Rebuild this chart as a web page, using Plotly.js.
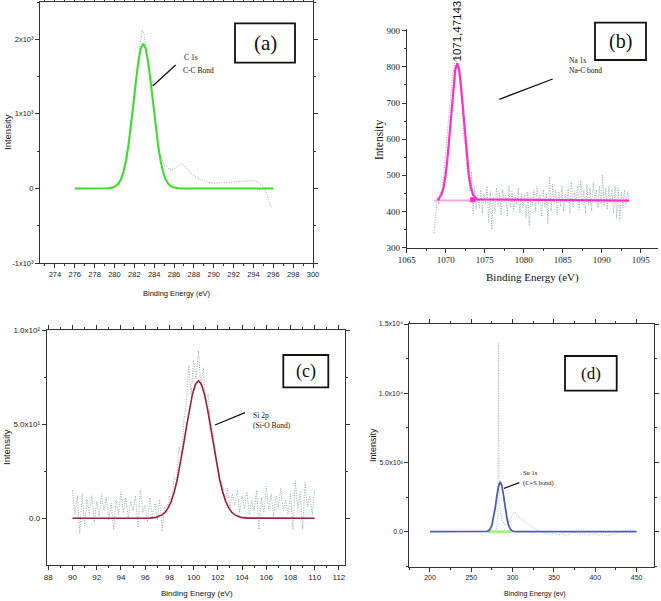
<!DOCTYPE html>
<html><head><meta charset="utf-8">
<script src="https://cdn.plot.ly/plotly-3.0.1.min.js"></script>
<style>html,body{margin:0;padding:0;background:#fff;}#chart{width:661px;height:601px;}</style>
</head><body><div id="chart"></div>
<script>
// ---------- Panel (a): C 1s ----------
const aRawX = [279.0,279.5,280.0,280.5,281.0,281.5,282.0,282.4,282.8,283.0,283.2,283.5,283.8,284.1,284.5,285.0,285.5,285.8,286.2,286.6,287.0,287.5,288.0,288.5,289.0,289.5,290.0,290.5,291.0,291.5,292.0,292.5,293.0,293.5,294.0,294.5,295.0,295.3,295.5,295.8];
const aRawY = [0,5,20,60,200,580,1150,1750,2130,2060,1850,1550,1200,950,480,320,260,245,280,330,310,235,170,130,100,80,70,75,80,85,85,90,100,110,105,80,20,-50,-150,-260];
const aFitX = [276,279,279.4,279.9,280.15,280.4,280.65,280.9,281.15,281.4,281.65,281.9,282.15,282.4,282.65,282.9,283.15,283.4,283.65,283.9,284.15,284.4,284.65,284.9,285.15,285.4,285.65,285.9,286.4,287,296];
const aFitY = [0,0,2.5,15,32,65,124,221,368,572,831,1128,1430,1694,1875,1940,1875,1694,1430,1128,831,572,368,221,124,65,32,15,2.5,0,0];
const aYTickVals = [-1000,0,1000,2000];
const aYTickText = ['-1x10³','0','1x10³','2x10³'];

// ---------- Panel (b): Na 1s ----------
const bRawX = [1068.5,1068.7,1068.9,1069.1,1069.3,1069.5,1069.7,1069.9,1070.1,1070.3,
1070.5,1070.7,1070.9,1071.1,1071.3,1071.5,1071.7,1071.9,1072.1,1072.3,
1072.5,1072.7,1072.9,1073.1,1073.3,1073.5,1073.7,1073.9,1074.1,1074.3,
1074.5,1074.7,1074.9,1075.1,1075.3,1075.5,1075.7,1075.9,1076.1,1076.3,
1076.5,1076.7,1076.9,1077.1,1077.3,1077.5,1077.7,1077.9,1078.1,1078.3,
1078.5,1078.7,1078.9,1079.1,1079.3,1079.5,1079.7,1079.9,1080.1,1080.3,
1080.5,1080.7,1080.9,1081.1,1081.3,1081.5,1081.7,1081.9,1082.1,1082.3,
1082.5,1082.7,1082.9,1083.1,1083.3,1083.5,1083.7,1083.9,1084.1,1084.3,
1084.5,1084.7,1084.9,1085.1,1085.3,1085.5,1085.7,1085.9,1086.1,1086.3,
1086.5,1086.7,1086.9,1087.1,1087.3,1087.5,1087.7,1087.9,1088.1,1088.3,
1088.5,1088.7,1088.9,1089.1,1089.3,1089.5,1089.7,1089.9,1090.1,1090.3,
1090.5,1090.7,1090.9,1091.1,1091.3,1091.5,1091.7,1091.9,1092.1,1092.3,
1092.5,1092.7,1092.9,1093.1,1093.3,1093.5];
const bRawY = [340,405,440,420,455,445,490,530,575,640,
690,745,780,800,830,805,790,735,690,610,
580,520,500,455,510,395,470,405,445,410,
460,395,450,420,470,370,455,350,440,400,
465,415,450,390,460,425,445,385,470,410,
455,400,440,420,465,395,450,410,445,380,
455,360,440,415,460,400,470,420,445,385,
460,410,450,365,495,400,475,420,460,390,
455,415,470,400,450,425,465,395,480,410,
455,430,470,405,485,420,460,395,475,415,
465,400,480,430,460,410,470,420,500,415,
465,405,470,425,460,395,470,380,465,375,
455,410,460,420,455,430];
const bFitX = [1069.0,1069.47,1069.72,1069.97,1070.22,1070.47,1070.72,1070.97,1071.22,1071.47,1071.72,1071.97,1072.22,1072.47,1072.72,1072.97,1073.22,1073.47,1073.97,1093.5];
const bFitY = [431,448,467,498,546,607,677,744,792,810,792,744,677,607,546,498,467,448,433,430];
const bBaseX = [1068.5,1074.0];
const bBaseY = [430,430];
const bMarkX = [1073.45];
const bMarkY = [432];

// ---------- Panel (c): Si 2p ----------
const cRawX = [90.0,90.2,90.4,90.6,90.8,91.0,91.2,91.4,91.6,91.8,
92.0,92.2,92.4,92.6,92.8,93.0,93.2,93.4,93.6,93.8,
94.0,94.2,94.4,94.6,94.8,95.0,95.2,95.4,95.6,95.8,
96.0,96.2,96.4,96.6,96.8,97.0,97.2,97.4,97.6,97.8,
98.0,98.2,98.4,98.6,98.8,99.0,99.2,99.4,99.6,99.8,
100.0,100.2,100.4,100.6,100.8,101.0,101.2,101.4,101.6,101.8,
102.0,102.2,102.4,102.6,102.8,103.0,103.2,103.4,103.6,103.8,
104.0,104.2,104.4,104.6,104.8,105.0,105.2,105.4,105.6,105.8,
106.0,106.2,106.4,106.6,106.8,107.0,107.2,107.4,107.6,107.8,
108.0,108.2,108.4,108.6,108.8,109.0,109.2,109.4,109.6,109.8,
110.0];
const cRawY = [15,2,12,-8,13,-4,10,3,12,-2,
9,1,13,4,11,-1,8,-6,10,2,
14,3,11,0,9,4,12,-5,15,3,
7,-2,11,1,8,-1,10,-7,6,3,
12,9,22,20,38,33,52,60,81,66,
84,74,89,70,80,62,66,50,47,32,
27,20,18,9,16,5,13,7,15,3,
12,5,14,2,10,4,15,-6,11,3,
17,5,13,1,12,6,16,4,10,2,
13,-6,20,5,14,-6,19,6,12,2,
15];
const cFitX = [90,96,96.4,96.9,97.4,97.65,97.9,98.15,98.4,98.65,98.9,99.15,99.4,99.65,99.9,100.15,100.4,100.65,100.9,101.15,101.4,101.65,101.9,102.15,102.4,102.65,102.9,103.15,103.4,103.9,104.4,110];
const cFitY = [0,0,0.1,0.5,1.8,3.2,5.5,9,14,20.6,28.8,38.3,48.3,57.9,65.8,71.1,73,71.1,65.8,57.9,48.3,38.3,28.8,20.6,14,9,5.5,3.2,1.8,0.5,0.1,0];
const cYTickVals = [0,50,100];
const cYTickText = ['0.0','5.0x10¹','1.0x10²'];

// ---------- Panel (d): Su 1s ----------
const dRawX = [200,270,279,281,282,282.6,283,283.4,284,285,287,289,291,293,296,299,302,305,308,312,316,320,324,328,332,336,340,345,350,355,360,365,370,375,380,385,390,395,400,405,410,415,420,425,430,435,440,445,449];
const dRawY = [0,0,50,300,1500,7000,13600,7000,2500,1400,900,600,400,500,800,1200,1450,1300,1000,850,700,500,300,150,50,-50,-150,-200,-100,-250,-150,-300,-100,-50,-200,-150,-250,-200,-150,-250,-200,-300,-200,-50,0,50,150,100,0];
const dFitX = [200,265,269,271,273,275,277,279,281,283,285,287,289,291,293,295,297,299,301,305,450];
const dFitY = [0,1,21,71,202,487,1001,1753,2614,3323,3600,3323,2614,1753,1001,487,202,71,21,1,0];
const dGreenX = [270,298];
const dGreenY = [0,0];
const dXTickVals = [200,250,300,350,400,450];
const dYTickVals = [0,5000,10000,15000];
const dYTickText = ['0.0','5.0x10³','1.0x10⁴','1.5x10⁴'];

// ---------- layout helpers ----------
const W = 661, H = 601;
const px = v => v / W, py = v => 1 - v / H;
const SANS = 'Liberation Sans, Arial, sans-serif';
const SERIF = 'Liberation Serif, Times New Roman, serif';
const GRAY = {color:'#9ea5ae', width:1, dash:'1px,1.5px'};

function axis(dom, range, font, size, extra) {
  return Object.assign({
    domain: dom, range: range, showline: true, linecolor: '#333', linewidth: 1,
    ticks: 'outside', ticklen: 4, tickcolor: '#333', tickwidth: 1,
    showgrid: false, zeroline: false, fixedrange: true,
    tickfont: {family: font, size: size, color: '#222'}
  }, extra);
}
function minor(dt, t0) { return {ticks:'outside', ticklen:2, tickcolor:'#333', dtick: dt, tick0: t0, showgrid:false}; }

const traces = [
  {x:aRawX, y:aRawY, xaxis:'x', yaxis:'y', mode:'lines', line:GRAY},
  {x:aFitX, y:aFitY, xaxis:'x', yaxis:'y', mode:'lines', line:{color:'#3cdc2a', width:2}},
  {x:bRawX, y:bRawY, xaxis:'x2', yaxis:'y2', mode:'lines', line:GRAY},
  {x:bBaseX, y:bBaseY, xaxis:'x2', yaxis:'y2', mode:'lines', line:{color:'#f4a8dc', width:2}},
  {x:bFitX, y:bFitY, xaxis:'x2', yaxis:'y2', mode:'lines', line:{color:'#ff2ec8', width:2.2}},
  {x:bMarkX, y:bMarkY, xaxis:'x2', yaxis:'y2', mode:'markers', marker:{color:'#ff2ec8', size:5, symbol:'square'}},
  {x:cRawX, y:cRawY, xaxis:'x3', yaxis:'y3', mode:'lines', line:GRAY},
  {x:cFitX, y:cFitY, xaxis:'x3', yaxis:'y3', mode:'lines', line:{color:'#9e1f3c', width:1.6}},
  {x:dRawX, y:dRawY, xaxis:'x4', yaxis:'y4', mode:'lines', line:{color:'#aeb8c6', width:1, dash:'1px,1.5px'}},
  {x:dGreenX, y:dGreenY, xaxis:'x4', yaxis:'y4', mode:'lines', line:{color:'#a6f08e', width:3}},
  {x:dFitX, y:dFitY, xaxis:'x4', yaxis:'y4', mode:'lines', line:{color:'#4f5fae', width:1.8}}
];

function ann(text, x, y, size, family, extra) {
  return Object.assign({text:text, x:px(x), y:py(y), xref:'paper', yref:'paper', showarrow:false,
    xanchor:'center', yanchor:'middle', font:{size:size, family:family, color:'#111'}}, extra || {});
}
function seg(x0, y0, x1, y1) {
  return {type:'line', xref:'paper', yref:'paper', x0:px(x0), y0:py(y0), x1:px(x1), y1:py(y1), line:{color:'#111', width:1.3}};
}
function box(x0, y0, x1, y1) {
  return {type:'rect', xref:'paper', yref:'paper', x0:px(x0), y0:py(y0), x1:px(x1), y1:py(y1), line:{color:'#111', width:1.8}, fillcolor:'rgba(0,0,0,0)'};
}

const layout = {
  width: W, height: H, margin: {l:0, r:0, t:0, b:0},
  paper_bgcolor: '#fff', plot_bgcolor: 'rgba(0,0,0,0)', showlegend: false,
  xaxis: axis([px(40), px(313)], [272.5, 300], SANS, 7.5, {anchor:'y', tick0:274, dtick:2, mirror:'ticks', minor:minor(1, 274)}),
  yaxis: axis([py(263), py(2)], [-1000, 2500], SANS, 7.5, {anchor:'x', tickvals:aYTickVals, ticktext:aYTickText, mirror:'ticks', minor:minor(500, 0)}),
  xaxis2: axis([px(406.7), px(658)], [1065, 1097.2], SERIF, 9, {anchor:'y2', tick0:1065, dtick:5, minor:minor(2.5, 1065)}),
  yaxis2: axis([py(247.5), py(29)], [300, 905], SERIF, 9, {anchor:'x2', tick0:300, dtick:100, minor:minor(50, 300)}),
  xaxis3: axis([px(46.7), px(345)], [87.87, 112.5], SANS, 8, {anchor:'y3', tick0:88, dtick:2, mirror:'ticks', minor:minor(1, 88)}),
  yaxis3: axis([py(565), py(330)], [-24.8, 100], SANS, 8, {anchor:'x3', tickvals:cYTickVals, ticktext:cYTickText, mirror:'ticks', minor:minor(25, 0)}),
  xaxis4: axis([px(409.3), px(654)], [175, 471], SANS, 7, {anchor:'y4', tickvals:dXTickVals, mirror:'ticks', minor:minor(25, 175)}),
  yaxis4: axis([py(566.7), py(324)], [-2530, 15000], SANS, 7, {anchor:'x4', tickvals:dYTickVals, ticktext:dYTickText, mirror:'ticks', minor:minor(2500, 0)}),
  shapes: [
    box(235, 23.3, 295, 62.7), box(595, 22.7, 646, 60), box(283.3, 355, 328.3, 387.3), box(565, 356, 616.7, 390.7),
    seg(175.7, 65, 152.7, 86), seg(552.7, 79, 499.3, 99.3), seg(245, 412.7, 215, 425), seg(519.3, 482.7, 504, 488.3)
  ],
  annotations: [
    ann('(a)', 265, 43, 21, SERIF), ann('(b)', 620.5, 41.5, 20, SERIF),
    ann('(c)', 305.8, 371.5, 18, SERIF), ann('(d)', 591, 373.5, 17, SERIF),
    ann('Binding Energy (eV)', 177, 293, 7.5, SANS), ann('Intensity', 7, 132, 9.5, SANS, {textangle:-90}),
    ann('Binding Energy (eV)', 532, 277, 11, SERIF), ann('Intensity', 379, 140, 11.5, SERIF, {textangle:-90}),
    ann('Binding Energy (eV)', 197, 593, 8, SANS), ann('Intensity', 6, 447, 9.5, SANS, {textangle:-90}),
    ann('Binding Energy (ev)', 534, 594, 7, SANS), ann('Intensity', 373, 445, 9, SANS, {textangle:-90}),
    ann('1071,47143', 456.5, 31, 11.5, SANS, {textangle:-90}),
    ann('C 1s', 182, 57.5, 7.5, SERIF, {xanchor:'left'}), ann('C-C Bond', 181, 70, 7.5, SERIF, {xanchor:'left'}),
    ann('Na 1s', 567, 60.7, 7.5, SERIF, {xanchor:'left'}), ann('Na-C bond', 567, 70.7, 7.5, SERIF, {xanchor:'left'}),
    ann('Si 2p', 250.7, 415, 7.5, SERIF, {xanchor:'left'}), ann('(Si-O Bond)', 250.7, 425.5, 7.5, SERIF, {xanchor:'left'}),
    ann('Su 1s', 521, 472.7, 6.5, SERIF, {xanchor:'left'}), ann('(C=S bond)', 520.7, 482.7, 6.5, SERIF, {xanchor:'left'})
  ]
};

Plotly.newPlot('chart', traces, layout, {staticPlot:true, displayModeBar:false});
</script></body></html>
